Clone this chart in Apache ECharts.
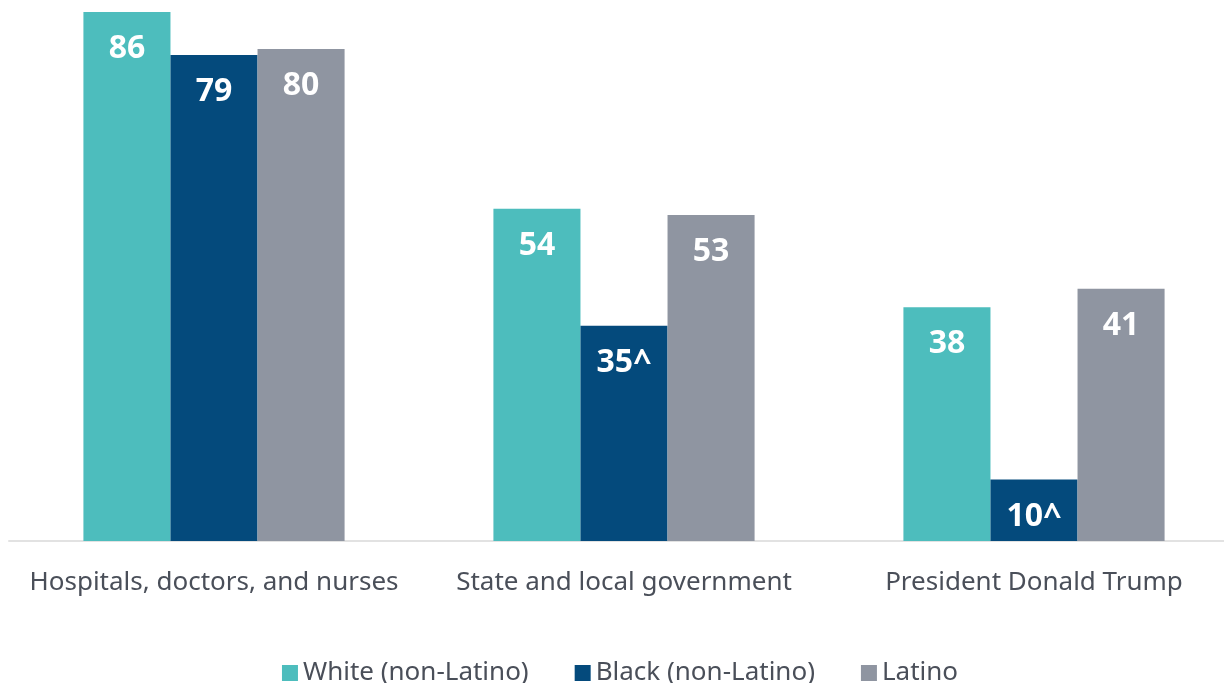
<!DOCTYPE html>
<html lang="en">
  <head>
    <meta charset="UTF-8" />
    <script src="https://cdn.jsdelivr.net/npm/echarts@6/dist/echarts.min.js"></script>
    <title>Trust by group</title>
    <style>
      body{margin:0;padding:0;background:#fff;overflow:hidden;}
      #chart{width:1240px;height:683px;}
    </style>
  </head>
  <body>
    <div id="chart"></div>
    <script>
      var categories = ['Hospitals, doctors, and nurses', 'State and local government', 'President Donald Trump'];
      var whiteVals = [86, 54, 38];
      var blackVals = [79, 35, 10];
      var latinoVals = [80, 53, 41];
      var blackNotes = ['', '^', '^'];  // significance marks on the black bars

      var myChart = echarts.init(document.getElementById('chart'));

      function lbl(notes) {
        return {
          show: true,
          position: 'insideTop',
          distance: 21,
          color: '#fff',
          fontSize: 32,
          fontWeight: 'bold',
          fontFamily: 'Noto Sans',
          formatter: function (p) {
            return p.value + (notes ? notes[p.dataIndex] : '');
          }
        };
      }

      var option = {
        animation: false,
        textStyle: {fontFamily: 'Noto Sans'},
        grid: {left: 9, right: 1, top: 12, bottom: 142, containLabel: false},
        legend: {
          bottom: -8,
          left: 'center',
          itemWidth: 16,
          itemHeight: 16,
          itemGap: 46,
          itemStyle: {borderWidth: 0},
          icon: 'rect',
          textStyle: {fontSize: 26, color: '#4a4f59', fontFamily: 'Noto Sans'},
          data: ['White (non-Latino)', 'Black (non-Latino)', 'Latino']
        },
        xAxis: {
          type: 'category',
          data: categories,
          axisLine: {lineStyle: {color: '#e2e2e2', width: 2}},
          axisTick: {show: false},
          axisLabel: {interval: 0, fontSize: 26, color: '#4a4f59', margin: 29, fontFamily: 'Noto Sans'}
        },
        yAxis: {
          type: 'value',
          min: 0,
          max: 86,
          show: false,
          splitLine: {show: false}
        },
        series: [
          {name: 'White (non-Latino)', type: 'bar', data: whiteVals, barGap: '0%', barCategoryGap: '36.3%',
           itemStyle: {color: '#4dbdbd'}, label: lbl(null)},
          {name: 'Black (non-Latino)', type: 'bar', data: blackVals,
           itemStyle: {color: '#044a7c'}, label: lbl(blackNotes)},
          {name: 'Latino', type: 'bar', data: latinoVals,
           itemStyle: {color: '#8f95a1'}, label: lbl(null)}
        ]
      };
      myChart.setOption(option);
    </script>
  </body>
</html>
